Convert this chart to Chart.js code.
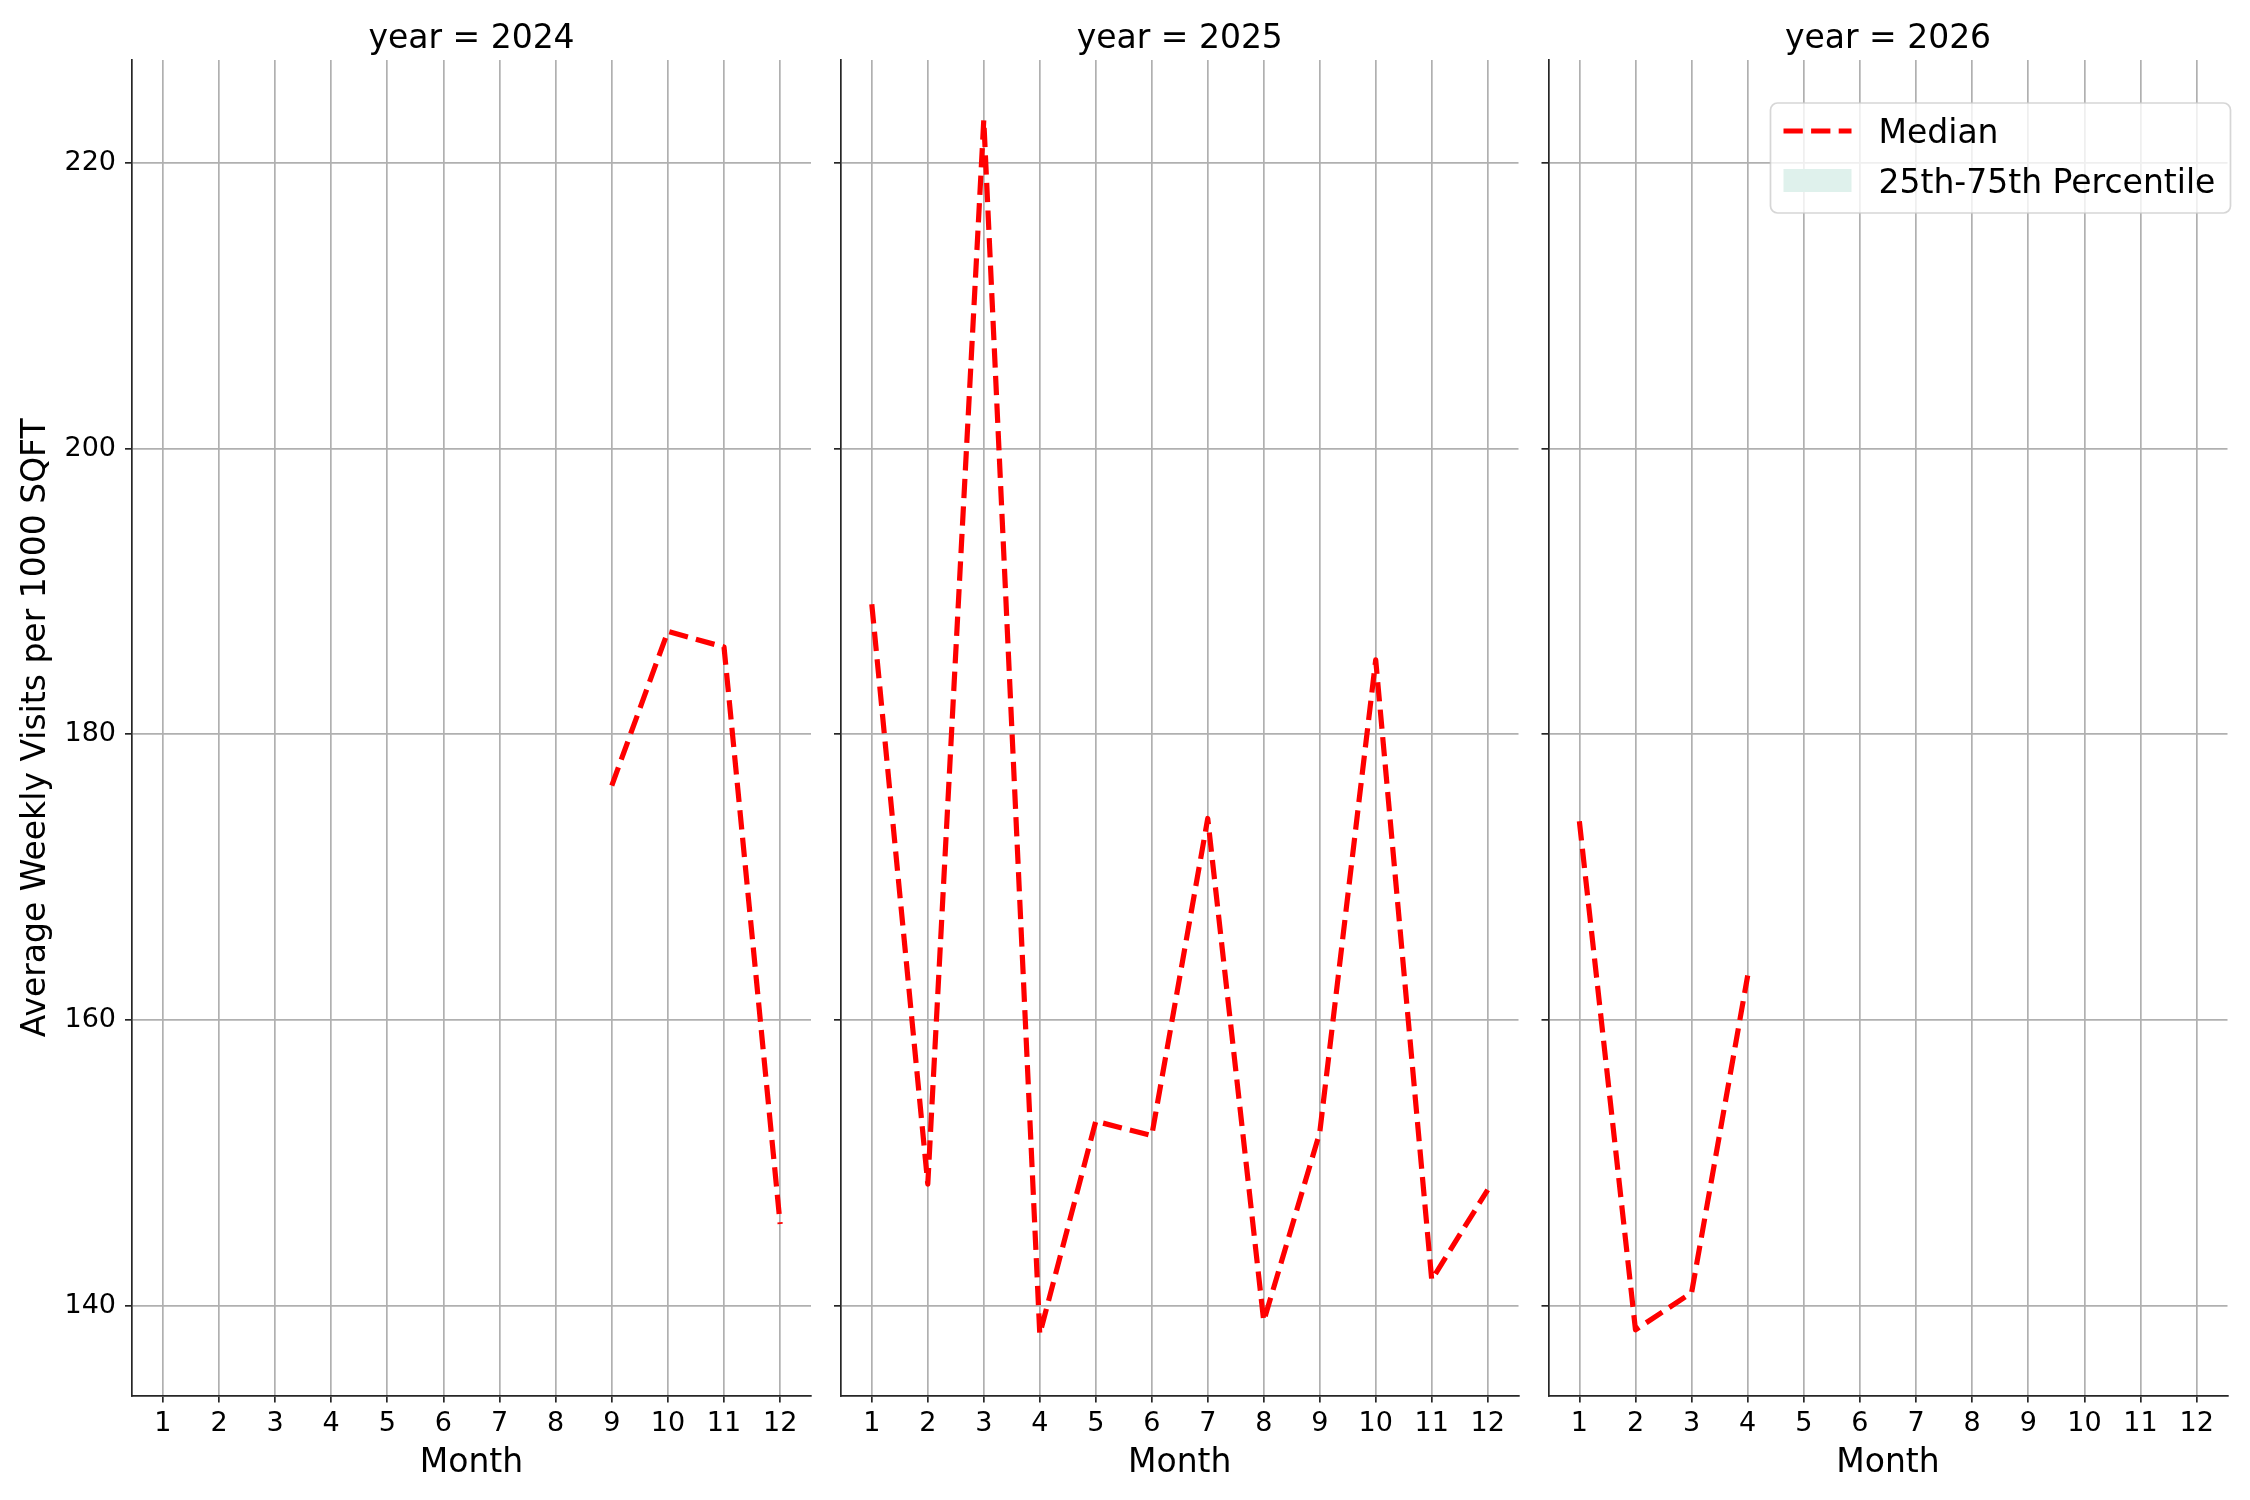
<!DOCTYPE html>
<html>
<head>
<meta charset="utf-8">
<script src="https://cdn.jsdelivr.net/npm/chart.js@4.4.0/dist/chart.umd.min.js"></script>
<style>
  html, body { margin: 0; padding: 0; background: #fff; }
  #fig { position: relative; width: 2250px; height: 1500px; }
  .panel { position: absolute; top: 0; height: 1500px; }
</style>
</head>
<body>
<div id="fig">
  <div class="panel" style="left:0px;width:826px"><canvas id="c2024"></canvas></div>
  <div class="panel" style="left:826px;width:707px"><canvas id="c2025"></canvas></div>
  <div class="panel" style="left:1533px;width:717px"><canvas id="c2026"></canvas></div>
</div>
<script>
const months = [1, 2, 3, 4, 5, 6, 7, 8, 9, 10, 11, 12];
const yTicks = [140, 160, 180, 200, 220];

const months2024 = [9, 10, 11, 12];
const median2024 = [176.4, 187.2, 186.1, 145.7];

const months2025 = [1, 2, 3, 4, 5, 6, 7, 8, 9, 10, 11, 12];
const median2025 = [189.1, 148.5, 223.0, 138.0, 152.9, 151.9, 174.1, 138.9, 152.1, 185.2, 141.8, 148.1];

const months2026 = [1, 2, 3, 4];
const median2026 = [173.9, 138.3, 140.9, 163.1];

const FONT = "'DejaVu Sans', sans-serif";
const GRID = "#b0b0b0";
const INK = "#262626";

function points(xs, ys) {
  return xs.map((x, i) => ({ x: x, y: ys[i] }));
}

// legend drawn inside the plot, top right (like the matplotlib one)
const insideLegend = {
  id: "insideLegend",
  afterDraw(chart, args, opts) {
    if (!opts.show) return;
    const ca = chart.chartArea;
    const ctx = chart.ctx;
    const w = 460, h = 110;
    const right = ca.right + 3, top = ca.top + 43, left = right - w;
    ctx.save();
    ctx.beginPath();
    ctx.roundRect(left, top, w, h, 7);
    ctx.fillStyle = "rgba(255,255,255,0.8)";
    ctx.fill();
    ctx.lineWidth = 1.7;
    ctx.strokeStyle = "rgba(204,204,204,0.8)";
    ctx.stroke();
    chart.data.datasets.forEach((ds, i) => {
      const y = top + 28 + i * 49.5;
      if (ds.borderWidth > 0) {
        ctx.beginPath();
        ctx.setLineDash(ds.borderDash || []);
        ctx.lineWidth = ds.borderWidth;
        ctx.strokeStyle = ds.borderColor;
        ctx.moveTo(left + 13, y);
        ctx.lineTo(left + 81, y);
        ctx.stroke();
        ctx.setLineDash([]);
      } else {
        ctx.fillStyle = ds.backgroundColor;
        ctx.fillRect(left + 13, y - 11.5, 68, 23);
      }
      ctx.fillStyle = "#000";
      ctx.font = "33px " + FONT;
      ctx.textBaseline = "middle";
      ctx.textAlign = "left";
      ctx.fillText(ds.label, left + 108, y + 3.5);
    });
    ctx.restore();
  }
};

function makePanel(id, year, xs, ys, axisWidth, padRight, first, showLegend) {
  const ctx = document.getElementById(id);
  return new Chart(ctx, {
    type: "line",
    data: {
      datasets: [
        {
          label: "Median",
          data: points(xs, ys),
          borderColor: "#ff0000",
          backgroundColor: "#ff0000",
          borderWidth: 5.2,
          borderDash: [19.3, 8.3],
          borderCapStyle: "butt",
          borderJoinStyle: "round",
          pointRadius: 0,
          tension: 0,
          fill: false
        },
        {
          label: "25th-75th Percentile",
          data: [],
          borderWidth: 0,
          backgroundColor: "#dff1ec",
          pointRadius: 0,
          fill: false
        }
      ]
    },
    options: {
      responsive: true,
      maintainAspectRatio: false,
      animation: false,
      layout: { padding: { left: 0, right: padRight, top: 0, bottom: 0 } },
      plugins: {
        legend: { display: false },
        tooltip: { enabled: false },
        title: {
          display: true,
          text: "year = " + year,
          fullSize: false,
          color: "#000",
          font: { family: FONT, size: 33, weight: "normal" },
          padding: { top: 19.5, bottom: 0.9 }
        },
        insideLegend: { show: showLegend }
      },
      scales: {
        x: {
          type: "linear",
          min: 0.45,
          max: 12.55,
          afterBuildTicks: (s) => { s.ticks = months.map(v => ({ value: v })); },
          afterFit: (s) => { s.height = 104.5; },
          ticks: {
            color: "#000",
            font: { family: FONT, size: 27 },
            padding: 5,
            maxRotation: 0,
            autoSkip: false
          },
          grid: { color: GRID, lineWidth: 1.7, tickLength: 7, tickColor: INK, tickWidth: 1.7 },
          border: { display: true, color: INK, width: 1.7 },
          title: {
            display: true,
            text: "Month",
            color: "#000",
            font: { family: FONT, size: 33 },
            padding: { top: 0, bottom: 17 }
          }
        },
        y: {
          type: "linear",
          min: 133.7,
          max: 227.2,
          afterBuildTicks: (s) => { s.ticks = yTicks.map(v => ({ value: v })); },
          afterFit: (s) => { s.width = axisWidth; },
          ticks: {
            display: first,
            color: "#000",
            font: { family: FONT, size: 27 },
            padding: 9
          },
          grid: { color: GRID, lineWidth: 1.7, tickLength: 7, tickColor: INK, tickWidth: 1.7 },
          border: { display: true, color: INK, width: 1.7 },
          title: {
            display: first,
            text: "Average Weekly Visits per 1000 SQFT",
            color: "#000",
            font: { family: FONT, size: 33 },
            padding: { top: 17, bottom: 0 }
          }
        }
      }
    },
    plugins: [insideLegend]
  });
}

makePanel("c2024", 2024, months2024, median2024, 132, 15, true, false);
makePanel("c2025", 2025, months2025, median2025, 15, 14.5, false, false);
makePanel("c2026", 2026, months2026, median2026, 15.5, 22.5, false, true);
</script>
</body>
</html>
